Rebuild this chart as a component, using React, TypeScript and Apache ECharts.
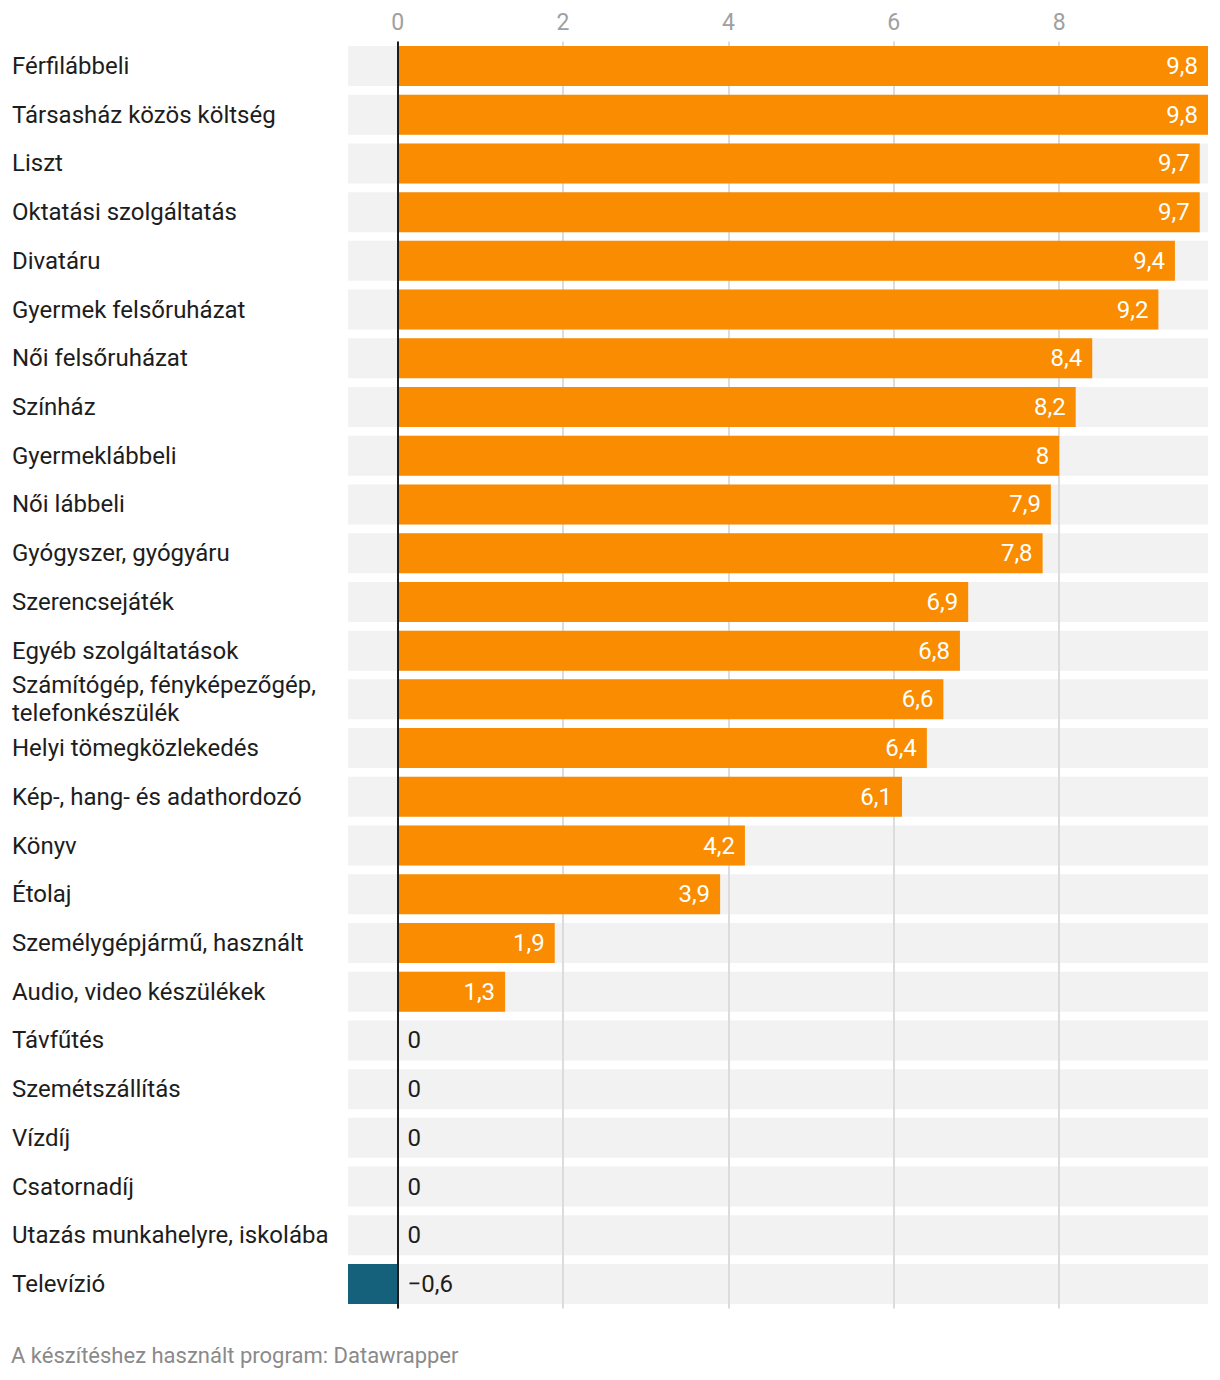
import React, { useEffect, useRef } from "react";
import * as echarts from "echarts";

const categories: string[] = [
  "Férfilábbeli",
  "Társasház közös költség",
  "Liszt",
  "Oktatási szolgáltatás",
  "Divatáru",
  "Gyermek felsőruházat",
  "Női felsőruházat",
  "Színház",
  "Gyermeklábbeli",
  "Női lábbeli",
  "Gyógyszer, gyógyáru",
  "Szerencsejáték",
  "Egyéb szolgáltatások",
  "Számítógép, fényképezőgép,\ntelefonkészülék",
  "Helyi tömegközlekedés",
  "Kép-, hang- és adathordozó",
  "Könyv",
  "Étolaj",
  "Személygépjármű, használt",
  "Audio, video készülékek",
  "Távfűtés",
  "Szemétszállítás",
  "Vízdíj",
  "Csatornadíj",
  "Utazás munkahelyre, iskolába",
  "Televízió",
];

const values: number[] = [
  9.8, 9.8, 9.7, 9.7, 9.4, 9.2, 8.4, 8.2, 8, 7.9, 7.8, 6.9, 6.8, 6.6, 6.4, 6.1,
  4.2, 3.9, 1.9, 1.3, 0, 0, 0, 0, 0, -0.6,
];

const axisMin = -0.6;
const axisMax = 9.8;

const ORANGE = "#f98c00";
const TEAL = "#15607a";
const FONT = "Roboto";

function fmt(v: number): string {
  const s = Math.abs(v).toString().replace(".", ",");
  return v < 0 ? "\u2212" + s : s;
}

export default function App() {
  const ref = useRef<HTMLDivElement>(null);

  useEffect(() => {
    if (!ref.current) return;
    const chart = echarts.init(ref.current, undefined, { renderer: "svg" });

    const barData = values.map((v) => ({
      value: v,
      itemStyle: { color: v < 0 ? TEAL : ORANGE },
      label:
        v > 0
          ? { position: "insideRight", color: "#ffffff", distance: 10 }
          : { position: "right", color: "#1d1d1d", distance: 10 },
    }));

    chart.setOption({
      animation: false,
      textStyle: { fontFamily: FONT },
      grid: { left: 348, right: 12, top: 41.6, bottom: 71.6, containLabel: false },
      xAxis: {
        type: "value",
        position: "top",
        min: axisMin,
        max: axisMax,
        z: 2,
        splitNumber: 5,
        axisLine: { show: false },
        axisTick: { show: false },
        axisLabel: {
          color: "#a0a0a0",
          fontSize: 23,
          fontFamily: FONT,
          margin: 8,
          showMinLabel: false,
          showMaxLabel: false,
          formatter: (v: number) => (Number.isInteger(v) ? fmt(v) : ""),
        },
        splitLine: {
          show: true,
          showMinLine: false,
          showMaxLine: false,
          lineStyle: { color: "#dcdcdc", width: 2 },
        },
      },
      yAxis: {
        type: "category",
        data: categories,
        inverse: true,
        axisLine: { show: false },
        axisTick: { show: false },
        axisLabel: {
          align: "left",
          margin: 336,
          color: "#1d1d1d",
          fontSize: 24,
          lineHeight: 28,
          fontFamily: FONT,
        },
        splitLine: { show: false },
      },
      series: [
        {
          type: "bar",
          z: 1,
          barWidth: 40,
          data: values,
          itemStyle: { color: "rgba(0,0,0,0)" },
          showBackground: true,
          backgroundStyle: { color: "#f2f2f2" },
          silent: true,
        },
        {
          type: "bar",
          z: 3,
          barWidth: 40,
          barGap: "-100%",
          data: barData,
          label: {
            show: true,
            fontSize: 24,
            fontFamily: FONT,
            formatter: (p: any) => fmt(p.value),
          },
          markLine: {
            silent: true,
            symbol: "none",
            label: { show: false },
            lineStyle: { color: "#1d1d1d", width: 2, type: "solid" },
            data: [{ xAxis: 0 }],
          },
        },
      ],
      graphic: [
        {
          type: "text",
          left: 11,
          top: 1344,
          style: {
            text: "A készítéshez használt program: Datawrapper",
            fill: "#8a8a8a",
            fontSize: 22,
            fontFamily: FONT,
          },
        },
      ],
    });

    return () => chart.dispose();
  }, []);

  return (
    <div
      ref={ref}
      style={{ position: "absolute", left: 0, top: 0, width: 1220, height: 1380 }}
    />
  );
}
